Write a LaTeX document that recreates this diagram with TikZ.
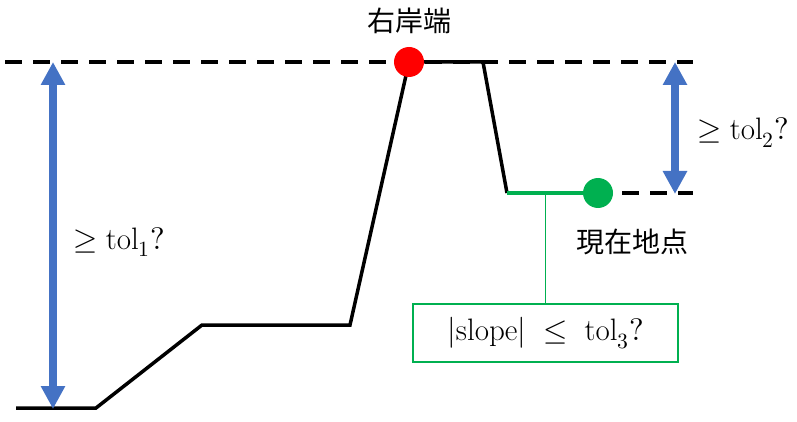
\documentclass[tikz,border=0pt]{standalone}
\usepackage{fontspec}
\usepackage{unicode-math}
\setmathfont{Latin Modern Math}
\newfontfamily\cjk{Noto Sans CJK JP}
\usetikzlibrary{arrows.meta}
\definecolor{myblue}{HTML}{4472C4}
\definecolor{mygreen}{HTML}{00B050}
\definecolor{myred}{HTML}{FF0000}
\tikzset{
  refline/.style={line width=3.5pt, dash pattern=on 16.5pt off 11.5pt},
  profile/.style={line width=3.5pt, black, line join=miter},
  flatpart/.style={line width=3.5pt, mygreen},
  dimarrow/.style={line width=8.5pt, myblue, {Triangle[width=23pt,length=23pt]}-{Triangle[width=23pt,length=23pt]}, shorten <=0pt, shorten >=0pt},
  dot/.style={circle, inner sep=0pt, minimum size=30pt},
  mathlabel/.style={font=\fontsize{31}{34}\selectfont, inner sep=0pt},
  cjklabel/.style={font=\cjk\fontsize{28}{30}\selectfont, inner sep=0pt},
  checkbox/.style={draw=mygreen, line width=1.6pt, minimum width=265pt, minimum height=58pt, inner sep=0pt, font=\fontsize{31}{34}\selectfont}
}
\begin{document}
\begin{tikzpicture}[x=1pt,y=-1pt]
\useasboundingbox (0,0) rectangle (797,422);
% reference lines
\coordinate (topL) at (5,62);
\coordinate (topR) at (693,62);
\coordinate (lowL) at (622,193);
\coordinate (lowR) at (693,193);
\draw[refline] (topL) -- (topR);
\draw[refline] (lowL) -- (lowR);
% profile
\coordinate (p0) at (16,408);
\coordinate (p1) at (96,408);
\coordinate (p2) at (202,325);
\coordinate (p3) at (350,325);
\coordinate (p4) at (409,62);
\coordinate (p5) at (483,62);
\coordinate (p6) at (507,193);
\coordinate (p7) at (598,193);
\coordinate (tap) at (545.5,193);
\draw[profile] (p0) -- (p1) -- (p2) -- (p3) -- (p4) -- (p5) -- (p6);
\draw[flatpart] (p6) -- (p7);
% check box
\node[checkbox] (box) at (545.5,333) {$|\mathrm{slope}|\;\leq\;\mathrm{tol}_3?$};
\draw[mygreen, line width=0.9pt] (tap) -- (box.north);
% dots
\node[dot, fill=myred] (rb) at (p4) {};
\node[dot, fill=mygreen] (cur) at (p7) {};
% labels
\node[cjklabel] (rblabel) at (409,21) {右岸端};
\node[cjklabel] (curlabel) at (632,242) {現在地点};
% arrows
\coordinate (a1t) at (53,62);
\coordinate (a1b) at (53,409);
\coordinate (a2t) at (675,62);
\coordinate (a2b) at (675,194);
\draw[dimarrow] (a1t) -- (a1b);
\draw[dimarrow] (a2t) -- (a2b);
\node[mathlabel, anchor=base west] (t1) at (73,249) {$\geq \mathrm{tol}_1?$};
\node[mathlabel, anchor=base west] (t2) at (697,140) {$\geq \mathrm{tol}_2?$};
\end{tikzpicture}
\end{document}
